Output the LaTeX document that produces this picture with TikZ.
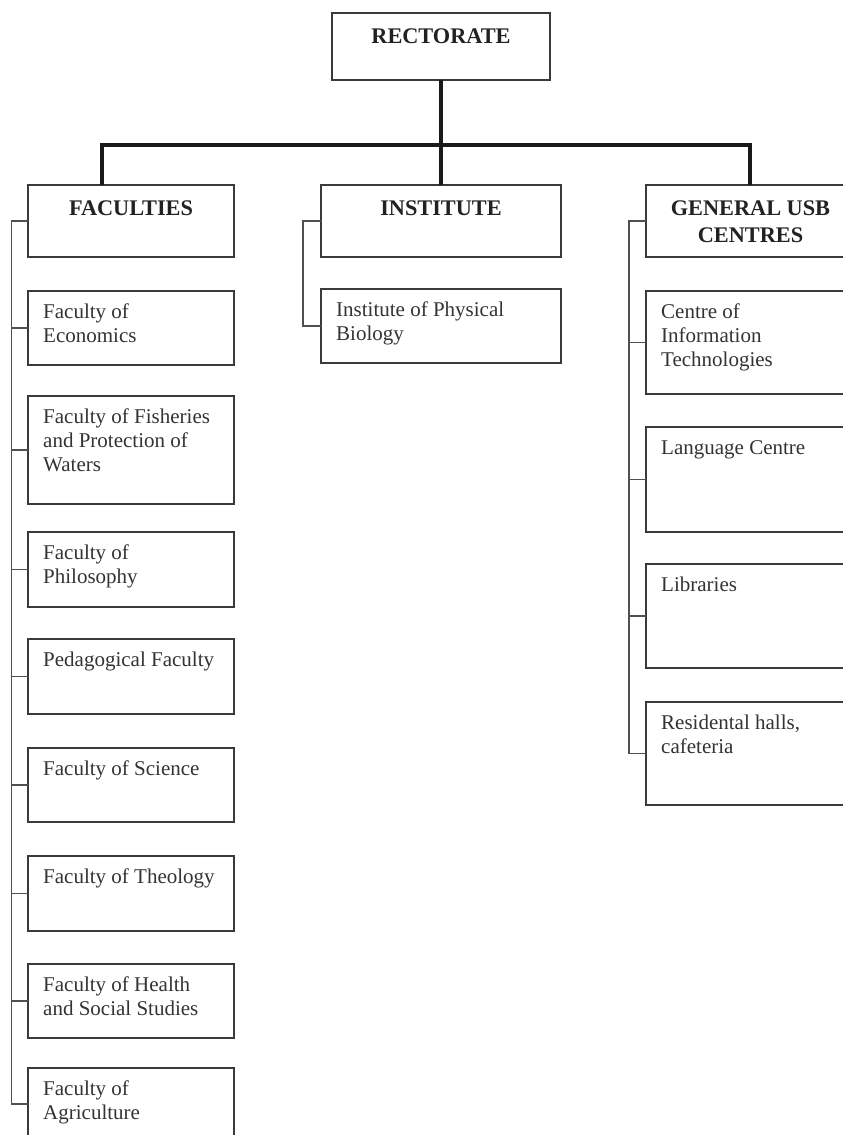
\documentclass[tikz,border=0pt]{standalone}
\usepackage{fontspec}
\setmainfont{Liberation Serif}
\definecolor{boxc}{HTML}{3A3A3A}
\definecolor{linkc}{HTML}{505050}
\definecolor{txtc}{HTML}{333333}
\definecolor{hdrc}{HTML}{222222}
\newcommand\leafbox[6]{%
  \node[box, minimum width=#4pt, minimum height=#5pt] (#1) at (#2,#3) {};
  \node[txt] (#1-t) at ([xshift=15pt,yshift=-7pt]#1.north west) {\rule{0pt}{20pt}#6};}
\newcommand\headbox[6]{%
  \node[box, minimum width=#4pt, minimum height=#5pt] (#1) at (#2,#3) {};
  \node[hdr] (#1-t) at ([yshift=-8pt]#1.north) {\rule{0pt}{22pt}#6};}
\begin{document}
\begin{tikzpicture}[x=1pt,y=-1pt,
  box/.style={draw=boxc, line width=1.6pt, rectangle, inner sep=0pt, outer sep=0pt, anchor=north west},
  txt/.style={inner sep=0pt, anchor=north west, align=left, text=txtc, font=\fontsize{21}{24}\selectfont},
  hdr/.style={inner sep=0pt, anchor=north, align=center, text=hdrc, font=\bfseries\fontsize{22.3}{27}\selectfont},
  link/.style={draw=linkc, line width=1.5pt},
  bus/.style={draw=black!90, line width=3.5pt}]
\useasboundingbox (0,0) rectangle (843,1135);
\clip (0,0) rectangle (843,1135);
\fill[white] (0,0) rectangle (843,1135);

% top
\headbox{rect}{332}{13}{218}{67}{RECTORATE}
% headers
\headbox{fac}{28}{185}{206}{72}{FACULTIES}
\headbox{inst}{321}{185}{240}{72}{INSTITUTE}
\headbox{gen}{646}{185}{209}{72}{GENERAL USB\\CENTRES}

% faculties
\leafbox{econ}{28}{291}{206}{74}{Faculty of\\Economics}
\leafbox{fish}{28}{396}{206}{108}{Faculty of Fisheries\\and Protection of\\Waters}
\leafbox{phil}{28}{532}{206}{75}{Faculty of\\Philosophy}
\leafbox{ped}{28}{639}{206}{75}{Pedagogical Faculty}
\leafbox{sci}{28}{748}{206}{74}{Faculty of Science}
\leafbox{theo}{28}{856}{206}{75}{Faculty of Theology}
\leafbox{heal}{28}{964}{206}{74}{Faculty of Health\\and Social Studies}
\leafbox{agr}{28}{1068}{206}{72}{Faculty of\\Agriculture}

% institute
\leafbox{bio}{321}{289}{240}{74}{Institute of Physical\\Biology}

% centres
\leafbox{cit}{646}{291}{209}{103}{Centre of\\Information\\Technologies}
\leafbox{lang}{646}{427}{209}{105}{Language Centre}
\leafbox{lib}{646}{564}{209}{104}{Libraries}
\leafbox{res}{646}{702}{209}{103}{Residental halls,\\cafeteria}

% bus
\coordinate (busL) at (102,145);
\coordinate (busR) at (750,145);
\draw[bus] (rect.south) -- (inst.north);
\draw[bus] (busL |- fac.north) -- (busL) -- (busR) -- (busR |- gen.north);

% trunks
\draw[link] (fac.west) -| ([xshift=-16.5pt]agr.west) -- (agr.west);
\foreach \n in {econ,fish,phil,ped,sci,theo,heal}
  \draw[link] (\n.west) -- ++(-16.5pt,0pt);
\draw[link] (inst.west) -| ([xshift=-18pt]bio.west) -- (bio.west);
\draw[link] (gen.west) -| ([xshift=-17pt]res.west) -- (res.west);
\foreach \n in {cit,lang,lib}
  \draw[link] (\n.west) -- ++(-17pt,0pt);
\end{tikzpicture}
\end{document}
